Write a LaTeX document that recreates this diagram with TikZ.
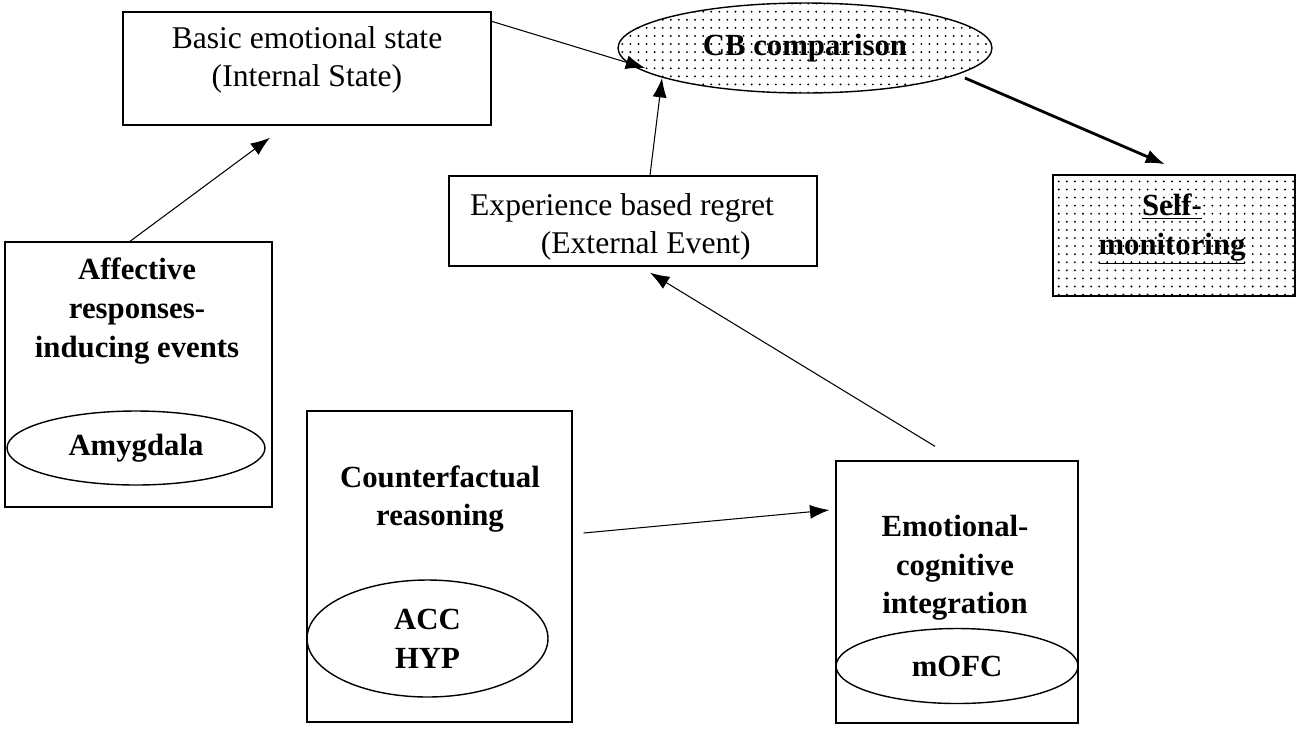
\documentclass[tikz,border=0pt]{standalone}
\usepackage{fontspec}
\setmainfont{Liberation Serif}
\usetikzlibrary{arrows.meta,patterns.meta,shapes.geometric}

\tikzset{
    box/.style={draw, line width=0.8pt, rectangle, inner sep=0pt},
    oval/.style={draw, line width=0.8pt, ellipse, inner sep=0pt},
    dotted fill/.style={pattern={Dots[distance=4.6pt, radius=0.6pt]}},
    lbl/.style={align=center, font=\fontsize{18}{22}\selectfont},
    blbl/.style={align=center, font=\fontsize{17.5}{22}\selectfont\bfseries},
    link/.style={-{Latex[length=11pt, width=8pt]}, line width=0.6pt}
}

\begin{document}
\begin{tikzpicture}[x=0.02cm, y=-0.02cm]
        \useasboundingbox (0,0) rectangle (1300,731);

        % Top row
        \node[box, minimum width=7.36cm, minimum height=2.26cm] (basic) at (307,68.5) {};
        \node[lbl] (basictxt) at (307,60) {Basic emotional state\\(Internal State)};
        \node[oval, dotted fill, minimum width=7.48cm, minimum height=1.8cm, blbl] (cb) at (805,48) {CB comparison};
        \node[box, dotted fill, minimum width=4.84cm, minimum height=2.42cm] (self) at (1174,235.5) {};
        \node[blbl] (selftxt) at (1172,229) {\underline{Self-}\\\underline{monitoring}};
        \node[box, minimum width=7.36cm, minimum height=1.8cm] (exp) at (633,221) {};
        \node[lbl] (exptxt) at (622,227) {Experience based regret\\\hspace*{0.95cm}(External Event)};

        % Brain areas
        \node[box, minimum width=5.34cm, minimum height=5.3cm] (aff) at (138.5,374.5) {};
        \node[blbl] (afftxt) at (137,311) {Affective\\responses-\\inducing events};
        \node[oval, minimum width=5.16cm, minimum height=1.48cm, blbl] (amy) at (136,448) {Amygdala};

        \node[box, minimum width=5.3cm, minimum height=6.22cm] (cf) at (439.5,566.5) {};
        \node[blbl] (cftxt) at (440,499) {Counterfactual\\reasoning};
        \node[oval, minimum width=4.82cm, minimum height=2.34cm, blbl] (acc) at (427.5,638.5) {ACC\\HYP};

        \node[box, minimum width=4.84cm, minimum height=5.24cm] (emo) at (957,592) {};
        \node[blbl] (emotxt) at (955,568) {Emotional-\\cognitive\\integration};
        \node[oval, minimum width=4.84cm, minimum height=1.5cm, blbl] (ofc) at (957,666) {mOFC};

        % Arrows
        \draw[link] ([xshift=-0.17cm]aff.north) -- ([xshift=-0.74cm, yshift=-0.24cm]basic.south);
        \draw[link] ([yshift=-0.2cm]basic.north east) -- ([xshift=-3.2cm, yshift=-0.4cm]cb.center);
        \draw[link] ([xshift=0.34cm]exp.north) -- ([xshift=-2.86cm, yshift=-0.6cm]cb.center);
        \draw[link, line width=1.6pt] ([xshift=3.2cm, yshift=-0.6cm]cb.center) -- ([xshift=-0.18cm, yshift=0.2cm]self.north);
        \draw[link] ([xshift=-0.44cm, yshift=0.28cm]emo.north) -- ([xshift=0.34cm, yshift=-0.12cm]exp.south);
        \draw[link] ([xshift=0.22cm, yshift=0.67cm]cf.east) -- ([xshift=-0.12cm, yshift=1.64cm]emo.west);

    \end{tikzpicture}
\end{document}
